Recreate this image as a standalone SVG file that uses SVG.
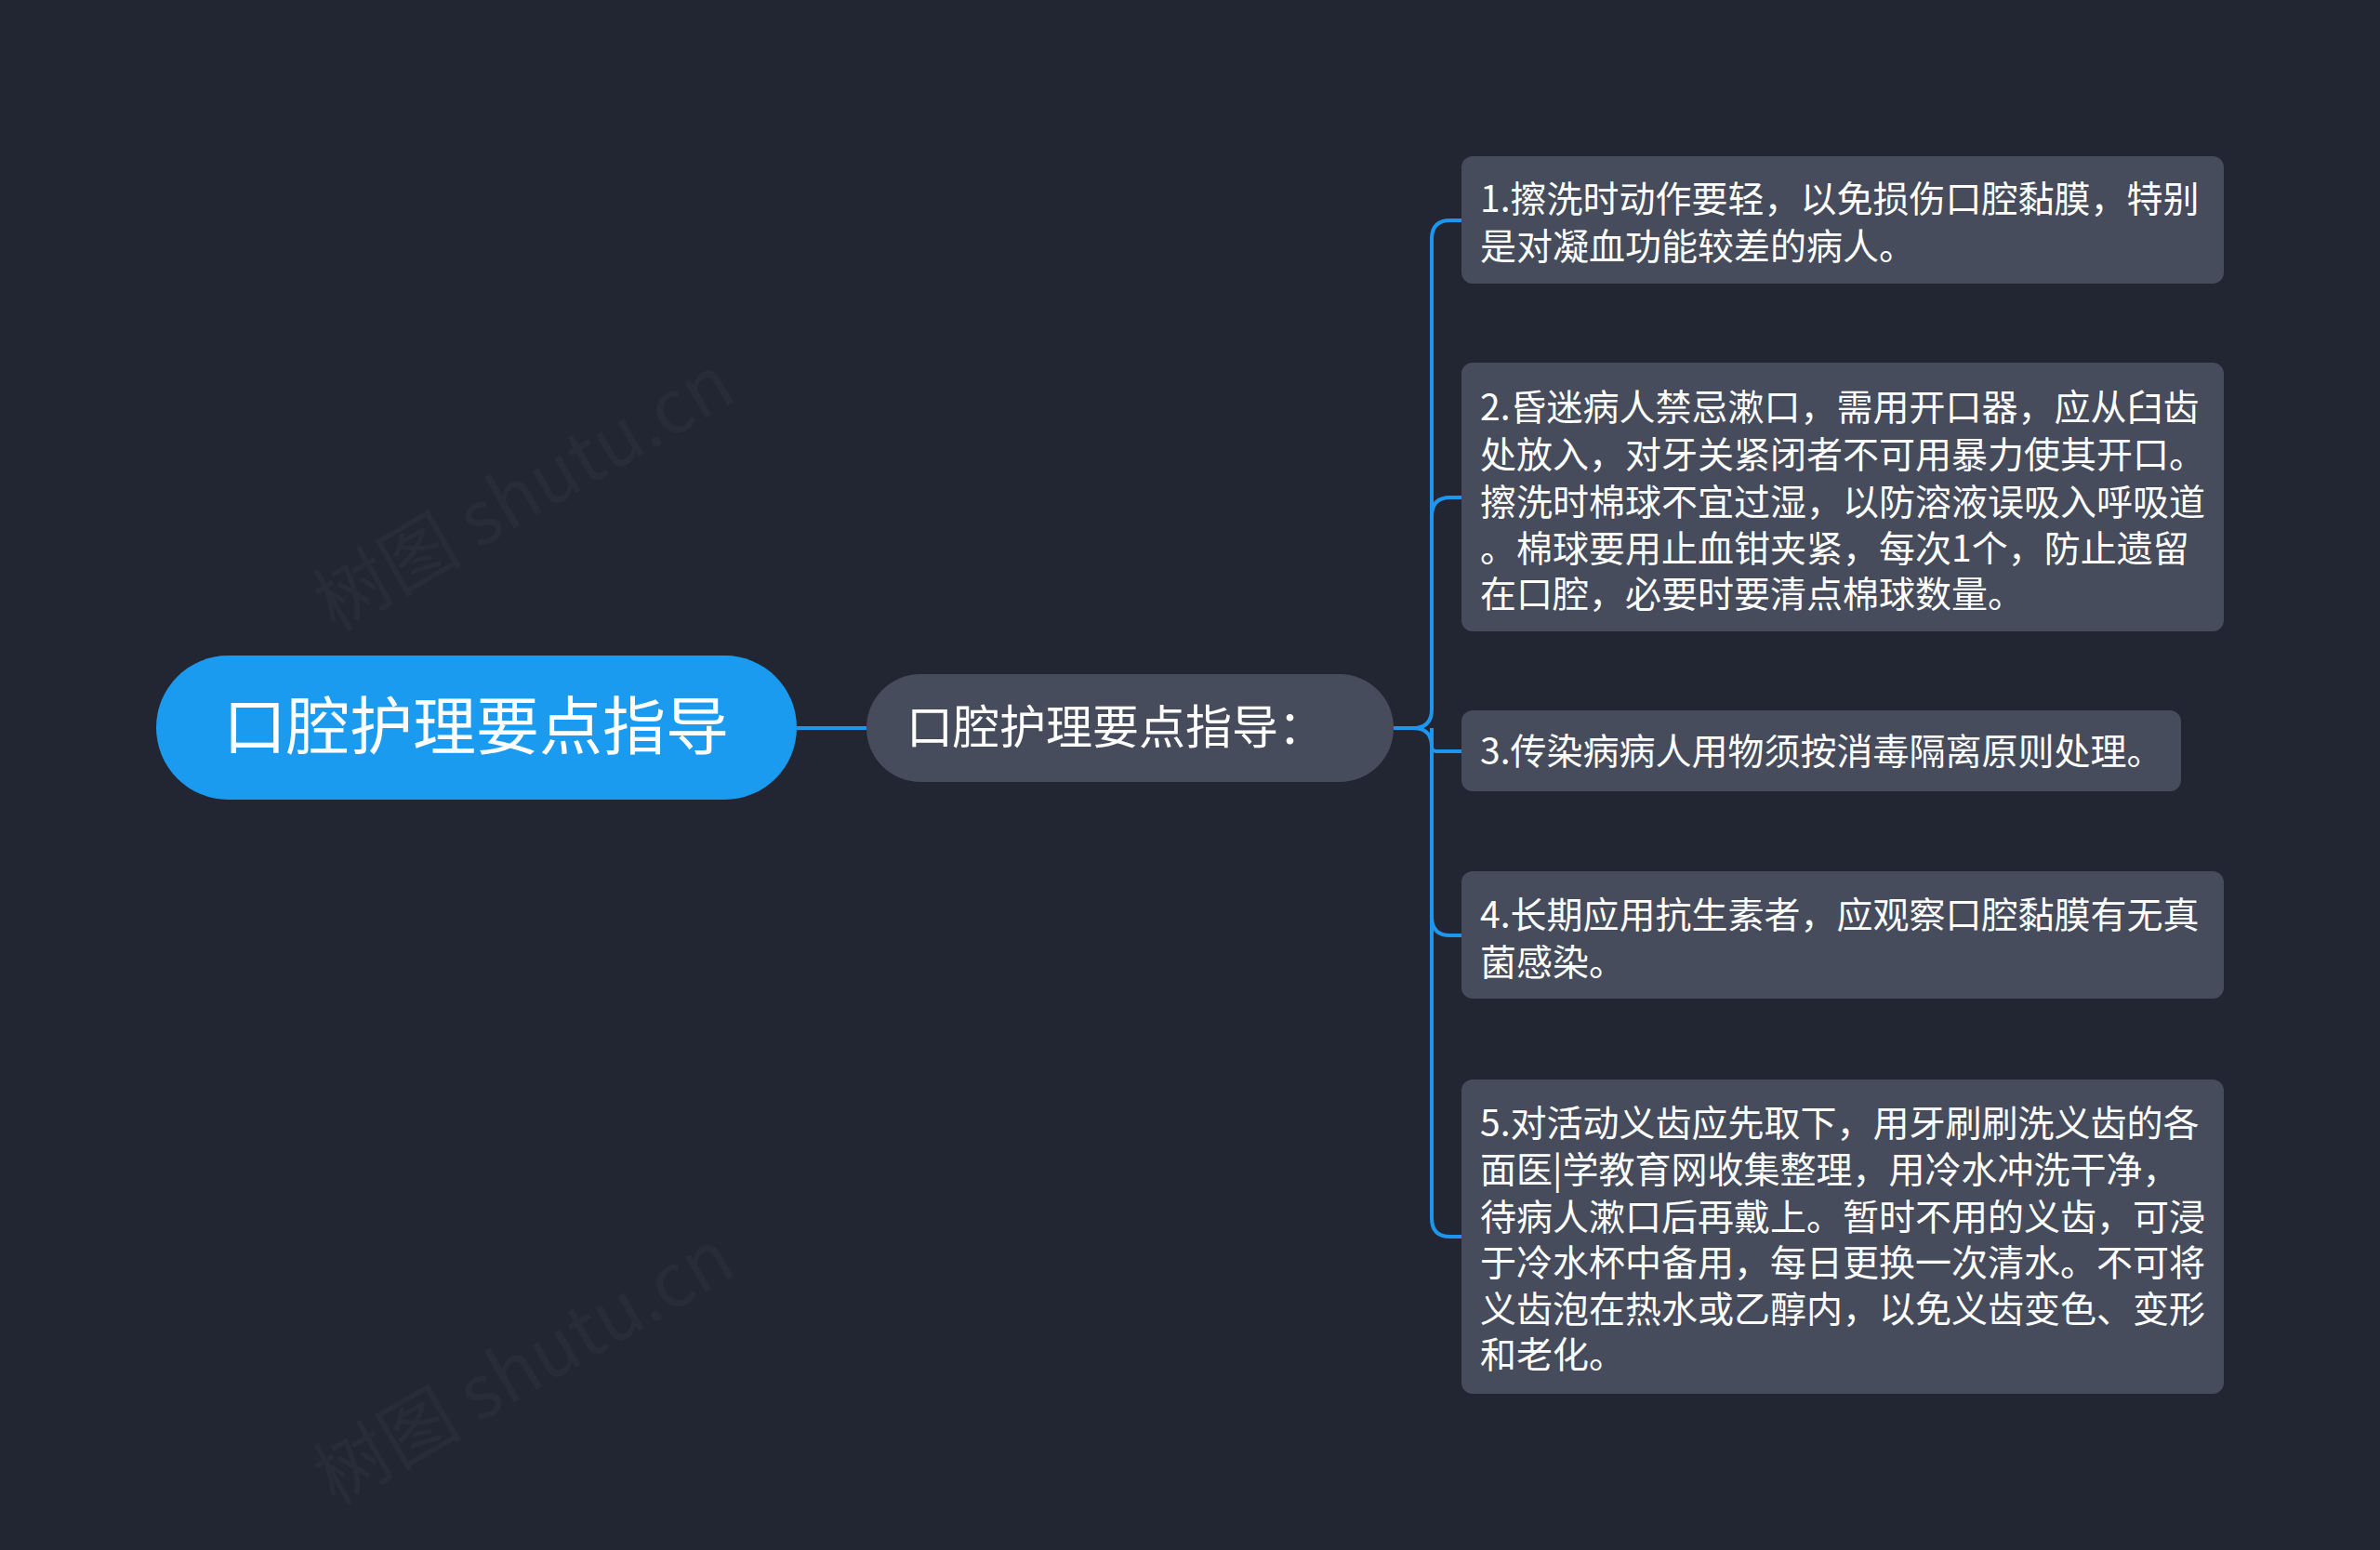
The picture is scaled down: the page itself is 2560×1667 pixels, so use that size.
<svg xmlns="http://www.w3.org/2000/svg" width="2560" height="1667" viewBox="0 0 2560 1667">
<style>
text{font-family:"Noto Sans CJK SC","Noto Sans",sans-serif;fill:#ffffff}
.leaf rect{fill:#464c5c}
.leaf text{font-size:39px}
.wm{font-size:80px;fill:#ffffff;fill-opacity:0.03}
.c{fill:none;stroke:#1e96ee;stroke-width:4}
</style>
<rect width="2560" height="1667" fill="#222632"/>
<g id="watermarks">
<text class="wm" transform="translate(360,680) rotate(-30)">树图 shutu.cn</text>
<text class="wm" transform="translate(360,1620) rotate(-30)">树图 shutu.cn</text>
</g>
<g id="connectors">
<path class="c" d="M857,783 H932"/>
<path class="c" d="M1499,783 H1520 Q1540,783 1540,763 V257 Q1540,237 1560,237 H1572"/>
<path class="c" d="M1540,555 Q1540,535 1560,535 H1572"/>
<path class="c" d="M1520,783 Q1540,783 1540,803 Q1540,808 1545,808 H1572"/>
<path class="c" d="M1540,783 V986 Q1540,1006 1560,1006 H1572"/>
<path class="c" d="M1540,986 V1310 Q1540,1330 1560,1330 H1572"/>
</g>
<g id="root">
<rect x="168" y="705" width="689" height="155" rx="77.5" fill="#1a9bf0"/>
<text x="512" y="806" font-size="68" text-anchor="middle">口腔护理要点指导</text>
</g>
<g id="mid">
<rect x="932" y="725" width="567" height="116" rx="58" fill="#464c5c"/>
<text x="1200" y="800" font-size="50" text-anchor="middle">口腔护理要点指导：</text>
</g>
<g id="leaf1" class="leaf">
<rect x="1572" y="168" width="820" height="137" rx="12"/>
<text x="1592" y="228">1.擦洗时动作要轻，以免损伤口腔黏膜，特别</text>
<text x="1592" y="279">是对凝血功能较差的病人。</text>
</g>
<g id="leaf2" class="leaf">
<rect x="1572" y="390" width="820" height="289" rx="12"/>
<text x="1592" y="452">2.昏迷病人禁忌漱口，需用开口器，应从臼齿</text>
<text x="1592" y="503">处放入，对牙关紧闭者不可用暴力使其开口。</text>
<text x="1592" y="554">擦洗时棉球不宜过湿，以防溶液误吸入呼吸道</text>
<text x="1592" y="604">。棉球要用止血钳夹紧，每次1个，防止遗留</text>
<text x="1592" y="653">在口腔，必要时要清点棉球数量。</text>
</g>
<g id="leaf3" class="leaf">
<rect x="1572" y="764" width="774" height="87" rx="12"/>
<text x="1592" y="822">3.传染病病人用物须按消毒隔离原则处理。</text>
</g>
<g id="leaf4" class="leaf">
<rect x="1572" y="937" width="820" height="137" rx="12"/>
<text x="1592" y="998">4.长期应用抗生素者，应观察口腔黏膜有无真</text>
<text x="1592" y="1049">菌感染。</text>
</g>
<g id="leaf5" class="leaf">
<rect x="1572" y="1161" width="820" height="338" rx="12"/>
<text x="1592" y="1222">5.对活动义齿应先取下，用牙刷刷洗义齿的各</text>
<text x="1592" y="1272">面医|学教育网收集整理，用冷水冲洗干净，</text>
<text x="1592" y="1323">待病人漱口后再戴上。暂时不用的义齿，可浸</text>
<text x="1592" y="1372">于冷水杯中备用，每日更换一次清水。不可将</text>
<text x="1592" y="1422">义齿泡在热水或乙醇内，以免义齿变色、变形</text>
<text x="1592" y="1471">和老化。</text>
</g>
</svg>
